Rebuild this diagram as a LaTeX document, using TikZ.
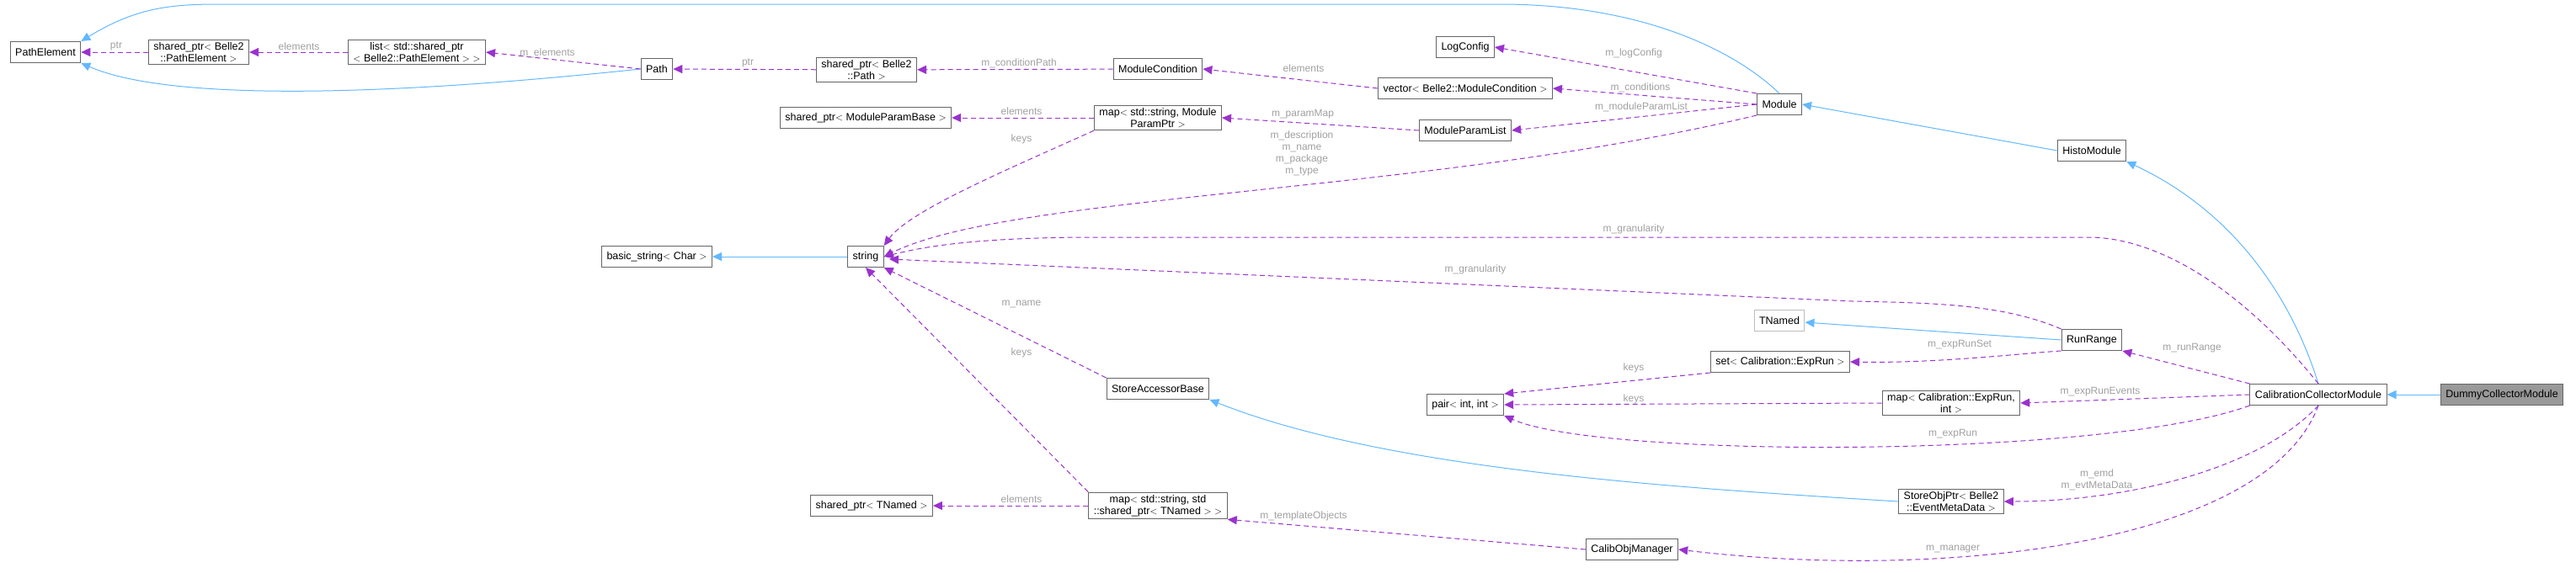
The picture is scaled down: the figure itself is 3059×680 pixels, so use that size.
\documentclass[tikz,border=0pt]{standalone}
\usepackage{fontspec}
\setmainfont{Liberation Sans}
\usetikzlibrary{arrows.meta,positioning}
\definecolor{inhblue}{RGB}{99,184,255}
\definecolor{usepurple}{RGB}{154,50,205}
\definecolor{boxgray}{RGB}{102,102,102}
\definecolor{lblgray}{RGB}{160,160,160}

\tikzset{
  cls/.style={draw=boxgray, fill=white, line width=1pt, inner xsep=6pt, inner ysep=3pt,
    minimum height=25pt, align=center, font=\fontsize{12.5}{14}\selectfont},
  inherit/.style={{Triangle[length=11pt,width=10pt]}-, inhblue, line width=1pt},
  uses/.style={-{Triangle[length=11pt,width=10pt]}, usepurple, dashed, dash pattern=on 6pt off 4pt, line width=1pt},
  lbl/.style={text=lblgray, font=\fontsize{12}{14}\selectfont, align=center, inner sep=1pt}
}

\begin{document}
\begin{tikzpicture}[x=1pt, y=-1pt]
\useasboundingbox (0,0) rectangle (3059,680);
% classes
\node[cls] (pathel) at (54,62) {PathElement};
\node[cls] (spPathEl) at (236,62) {shared\_ptr$<$ Belle2\\::PathElement $>$};
\node[cls] (listPathEl) at (495,62) {list$<$ std::shared\_ptr\\$<$ Belle2::PathElement $>$ $>$};
\node[cls] (path) at (780,82) {Path};
\node[cls] (spPath) at (1029,83) {shared\_ptr$<$ Belle2\\::Path $>$};
\node[cls] (spParamBase) at (1028,140) {shared\_ptr$<$ ModuleParamBase $>$};
\node[cls] (basicstr) at (780,305) {basic\_string$<$ Char $>$};
\node[cls] (string) at (1028,305) {string};
\node[cls] (modcond) at (1375,82) {ModuleCondition};
\node[cls] (logconf) at (1740,56) {LogConfig};
\node[cls] (vecCond) at (1740,105) {vector$<$ Belle2::ModuleCondition $>$};
\node[cls] (mapParam) at (1375,140) {map$<$ std::string, Module\\ParamPtr $>$};
\node[cls] (paramList) at (1740,155) {ModuleParamList};
\node[cls] (module) at (2113,124) {Module};
\node[cls] (histo) at (2484,179) {HistoModule};
\node[cls, draw=lblgray!70] (tnamed) at (2113,381) {TNamed};
\node[cls] (setRun) at (2114,430) {set$<$ Calibration::ExpRun $>$};
\node[cls] (accBase) at (1375,462) {StoreAccessorBase};
\node[cls] (pairInt) at (1740,481) {pair$<$ int, int $>$};
\node[cls] (mapTNamed) at (1375,601) {map$<$ std::string, std\\::shared\_ptr$<$ TNamed $>$ $>$};
\node[cls] (spTNamed) at (1035,601) {shared\_ptr$<$ TNamed $>$};
\node[cls] (calibObj) at (1938,653) {CalibObjManager};
\node[cls] (runRange) at (2484,404) {RunRange};
\node[cls] (mapRun) at (2317,479) {map$<$ Calibration::ExpRun,\\int $>$};
\node[cls] (collector) at (2753,469) {CalibrationCollectorModule};
\node[cls, fill=black!40] (dummy) at (2971,469) {DummyCollectorModule};
\node[cls] (objPtr) at (2317,596) {StoreObjPtr$<$ Belle2\\::EventMetaData $>$};

% inheritance
\draw[inherit] (pathel.north east) .. controls (160,10) and (200,5) .. (260,5) -- (1780,5) .. controls (1950,5) and (2060,60) .. (module.north);
\draw[inherit] (pathel.south east) .. controls (200,120) and (450,115) .. (path.west);
\draw[inherit] (basicstr) -- (string);
\draw[inherit] (module.east) -- (histo.west);
\draw[inherit] (histo.south east) .. controls (2650,250) and (2720,350) .. (collector.north);
\draw[inherit] (tnamed) -- (runRange.west);
\draw[inherit] (accBase.south east) .. controls (1650,560) and (2000,580) .. (objPtr.west);
\draw[inherit] (collector) -- (dummy);

% members
\draw[uses] (spPathEl) -- (pathel);
\draw[uses] (listPathEl) -- (spPathEl);
\draw[uses] (path.west) -- (listPathEl.east);
\draw[uses] (spPath) -- (path);
\draw[uses] (modcond) -- (spPath);
\draw[uses] (vecCond.west) -- (modcond.east);
\draw[uses] (module.north west) -- (logconf.east);
\draw[uses] (module.west) -- (vecCond.east);
\draw[uses] (module.west) -- (paramList.east);
\draw[uses] (paramList.west) -- (mapParam.east);
\draw[uses] (mapParam) -- (spParamBase);
\draw[uses] (mapParam.south west) .. controls (1200,200) and (1080,250) .. (string.north east);
\draw[uses] (module.south west) .. controls (1700,230) and (1200,230) .. (string.east);
\draw[uses] (collector.north) .. controls (2660,340) and (2560,282) .. (2480,282) -- (1300,282) .. controls (1150,282) and (1090,295) .. (string.east);
\draw[uses] (runRange.north west) .. controls (2380,362) and (2300,360) .. (2200,358) -- (1056,308);
\draw[uses] (accBase.north west) -- (string.south east);
\draw[uses] (mapTNamed.north west) -- (string.south);
\draw[uses] (mapTNamed) -- (spTNamed);
\draw[uses] (calibObj.west) -- (mapTNamed.south east);
\draw[uses] (runRange.south west) .. controls (2400,420) and (2300,432) .. (setRun.east);
\draw[uses] (setRun.south west) -- (pairInt.north east);
\draw[uses] (mapRun.west) -- (pairInt.east);
\draw[uses] (collector.south west) .. controls (2500,545) and (1900,545) .. (pairInt.south east);
\draw[uses] (collector.north west) -- (runRange.south east);
\draw[uses] (collector.west) -- (mapRun.east);
\draw[uses] (collector.south) .. controls (2680,560) and (2520,596) .. (objPtr.east);
\draw[uses] (collector.south) .. controls (2690,650) and (2300,690) .. (calibObj.east);

% member labels
\node[lbl] at (138,55) {ptr};
\node[lbl] at (355,55) {elements};
\node[lbl] at (650,63) {m\_elements};
\node[lbl] at (888,75) {ptr};
\node[lbl] at (1210,75) {m\_conditionPath};
\node[lbl] at (1548,81) {elements};
\node[lbl] at (1940,63) {m\_logConfig};
\node[lbl] at (1948,104) {m\_conditions};
\node[lbl] at (1949,127) {m\_moduleParamList};
\node[lbl] at (1547,136) {m\_paramMap};
\node[lbl] at (1213,132) {elements};
\node[lbl] at (1213,165) {keys};
\node[lbl] at (1546,182) {m\_description\\m\_name\\m\_package\\m\_type};
\node[lbl] at (1940,272) {m\_granularity};
\node[lbl] at (1752,320) {m\_granularity};
\node[lbl] at (1213,361) {m\_name};
\node[lbl] at (1213,419) {keys};
\node[lbl] at (1213,593) {elements};
\node[lbl] at (1548,613) {m\_templateObjects};
\node[lbl] at (2327,410) {m\_expRunSet};
\node[lbl] at (1940,437) {keys};
\node[lbl] at (1940,474) {keys};
\node[lbl] at (2319,516) {m\_expRun};
\node[lbl] at (2603,414) {m\_runRange};
\node[lbl] at (2494,466) {m\_expRunEvents};
\node[lbl] at (2490,570) {m\_emd\\m\_evtMetaData};
\node[lbl] at (2319,653) {m\_manager};
\end{tikzpicture}
\end{document}
